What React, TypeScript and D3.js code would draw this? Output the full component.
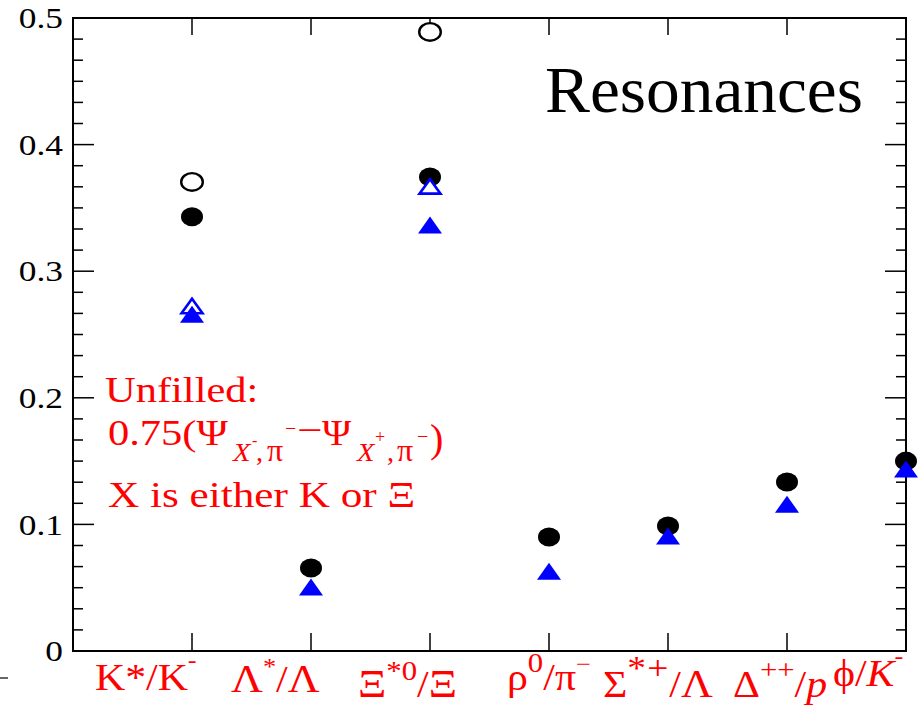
import React from "react";
import * as d3 from "d3";

const categories = ["K*/K-", "Λ*/Λ", "Ξ*0/Ξ", "ρ0/π-", "Σ*+/Λ", "Δ++/p", "φ/K-"];
const filledCircle = [0.343, 0.0656, 0.3744, 0.090, 0.0987, 0.1335, 0.150];
const filledTriangle = [0.266, 0.0506, 0.3365, 0.063, 0.0908, 0.116, 0.1438];
const openCircle: (number | null)[] = [0.3705, null, 0.489, null, null, null, null];
const openTriangle: (number | null)[] = [0.2725, null, 0.367, null, null, null, null];
const yTicks = [0, 0.1, 0.2, 0.3, 0.4, 0.5];
const yTickLabels = ["0", "0.1", "0.2", "0.3", "0.4", "0.5"];

type Seg = { t: string; size?: number; dy?: number; it?: boolean; ls?: number };
// rich label segments for each category
const labelSegs: Seg[][] = [
  [{ t: "K*/K" }, { t: "-", size: 24, dy: -22 }],
  [{ t: "Λ", size: 40 }, { t: "*", size: 24, dy: -18 }, { t: "/" }, { t: "Λ", size: 40 }],
  [{ t: "Ξ", size: 40 }, { t: "*0", size: 28, dy: -17 }, { t: "/" }, { t: "Ξ", size: 40 }],
  [{ t: "ρ" }, { t: "0", size: 28, dy: -18 }, { t: "/π" }, { t: "−", size: 24, dy: -18 }],
  [{ t: "Σ" }, { t: "*+", size: 34, dy: -18, ls: 1 }, { t: "/" }, { t: "Λ", size: 40 }],
  [{ t: "Δ" }, { t: "++", size: 28, dy: -18 }, { t: "/" }, { t: "p", it: true }],
  [{ t: "ϕ/" }, { t: "K", it: true }, { t: "-", size: 24, dy: -22 }],
];
const labelDx = [-97, -80, -72, -42, -65, -54, -73];
const labelBase = [690, 692, 697, 690, 697, 697, 686];

// pieces of the second annotation line: text, x, baseline, size, italic, scaleX
type Piece = { t: string; x: number; b: number; s: number; it?: boolean; k?: number };
const annotPieces: Piece[] = [
  { t: "0.75(Ψ", x: 108, b: 445, s: 36, k: 1.18 },
  { t: "X", x: 233, b: 461, s: 26, it: true, k: 1.1 },
  { t: "-", x: 252, b: 446, s: 16 },
  { t: ",", x: 256, b: 461, s: 28 },
  { t: "π", x: 267, b: 461, s: 32 },
  { t: "−", x: 285, b: 435, s: 20 },
  { t: "−", x: 297, b: 442, s: 36, k: 1.25 },
  { t: "Ψ", x: 322, b: 445, s: 36, k: 1.1 },
  { t: "X", x: 357, b: 461, s: 26, it: true, k: 1.1 },
  { t: "+", x: 375, b: 443, s: 18 },
  { t: ",", x: 387, b: 461, s: 28 },
  { t: "π", x: 397, b: 461, s: 32 },
  { t: "−", x: 417, b: 443, s: 20 },
  { t: ")", x: 430, b: 452, s: 40 },
];

const W = 918, H = 706;
const left = 73, right = 906, top = 18, bottom = 651;

const x = d3.scaleLinear().domain([-1, 6]).range([left, right]);
const y = d3.scaleLinear().domain([0, 0.5]).range([bottom, top]);

const serif = "'Liberation Serif', 'Times New Roman', serif";
const red = "#ff0000";
const blue = "#0000ff";

function tri(cx: number, cy: number, w: number, h: number) {
  return `M${cx - w / 2},${cy + h / 2}L${cx + w / 2},${cy + h / 2}L${cx},${cy - h / 2}Z`;
}

function RichText({ segs, size }: { segs: Seg[]; size: number }) {
  return (
    <text x={0} y={0} fontFamily={serif} fontSize={size} fill={red}>
      {segs.map((s, i) => (
        <tspan
          key={i}
          y={s.dy || 0}
          fontSize={s.size || size}
          fontStyle={s.it ? "italic" : "normal"}
          letterSpacing={s.ls || 0}
        >
          {s.t}
        </tspan>
      ))}
    </text>
  );
}

export default function App() {
  const minor: number[] = [];
  for (let i = 0; i <= 30; i++) minor.push(i / 60);
  const idx = categories.map((_, i) => i);
  return (
    <svg width={W} height={H} style={{ position: "absolute", left: 0, top: 0, background: "#fff" }}>
      <rect x={0} y={0} width={W} height={H} fill="#fff" />
      {/* y ticks left and right */}
      {minor.map((v, i) => {
        const major = i % 6 === 0;
        const len = major ? 21 : 10;
        return (
          <g key={"t" + i} stroke="#000" strokeWidth={1.5}>
            <line x1={left} x2={left + len} y1={y(v)} y2={y(v)} />
            <line x1={right} x2={right - len} y1={y(v)} y2={y(v)} />
          </g>
        );
      })}
      {/* x ticks bottom and top */}
      {idx.slice(0, 6).map((i) => (
        <g key={"x" + i} stroke="#000" strokeWidth={1.5}>
          <line x1={x(i)} x2={x(i)} y1={bottom} y2={bottom - 18} />
          <line x1={x(i)} x2={x(i)} y1={top} y2={top + 17} />
        </g>
      ))}
      <rect x={left} y={top} width={right - left} height={bottom - top} fill="none" stroke="#000" strokeWidth={2} />
      {/* y tick labels */}
      {yTicks.map((v, i) => (
        <g key={"yl" + i} transform={`translate(63,${y(v)}) scale(1.22,1)`}>
          <text x={0} y={0} dy="0.35em" textAnchor="end" fontFamily={serif} fontSize={29} fill="#000">
            {yTickLabels[i]}
          </text>
        </g>
      ))}
      {/* stray mark */}
      <line x1={0} x2={8} y1={678} y2={678} stroke="#000" strokeWidth={1.2} />
      {/* x labels */}
      {idx.map((i) => (
        <g key={"xl" + i} transform={`translate(${x(i) + labelDx[i]},${labelBase[i]}) scale(1.1,1)`}>
          <RichText segs={labelSegs[i]} size={38} />
        </g>
      ))}
      {/* markers */}
      {idx.map((i) => (
        <ellipse key={"fc" + i} cx={x(i)} cy={y(filledCircle[i])} rx={11} ry={9.5} fill="#000" />
      ))}
      {idx.map((i) =>
        openCircle[i] == null ? null : (
          <ellipse key={"oc" + i} cx={x(i)} cy={y(openCircle[i] as number)} rx={10.8} ry={8.8} fill="#fff" stroke="#000" strokeWidth={2.4} />
        )
      )}
      {idx.map((i) =>
        openTriangle[i] == null ? null : (
          <path key={"ot" + i} d={tri(x(i), y(openTriangle[i] as number), 21, 14.5)} fill="#fff" stroke={blue} strokeWidth={2.6} />
        )
      )}
      {idx.map((i) => (
        <path key={"ft" + i} d={tri(x(i), y(filledTriangle[i]), 24, 17)} fill={blue} />
      ))}
      {/* title */}
      <text x={545} y={112} fontFamily={serif} fontSize={65} fill="#000" textLength={318} lengthAdjust="spacingAndGlyphs">
        Resonances
      </text>
      {/* annotation */}
      <g transform="translate(105,402) scale(1.18,1)">
        <text x={0} y={0} fontFamily={serif} fontSize={36} fill={red}>Unfilled:</text>
      </g>
      {annotPieces.map((p, i) => (
        <g key={"ap" + i} transform={`translate(${p.x},${p.b}) scale(${p.k || 1},1)`}>
          <text x={0} y={0} fontFamily={serif} fontSize={p.s} fontStyle={p.it ? "italic" : "normal"} fill={red}>
            {p.t}
          </text>
        </g>
      ))}
      <g transform="translate(108,507) scale(1.2,1)">
        <text x={0} y={0} fontFamily={serif} fontSize={36} fill={red}>X is either K or Ξ</text>
      </g>
    </svg>
  );
}
